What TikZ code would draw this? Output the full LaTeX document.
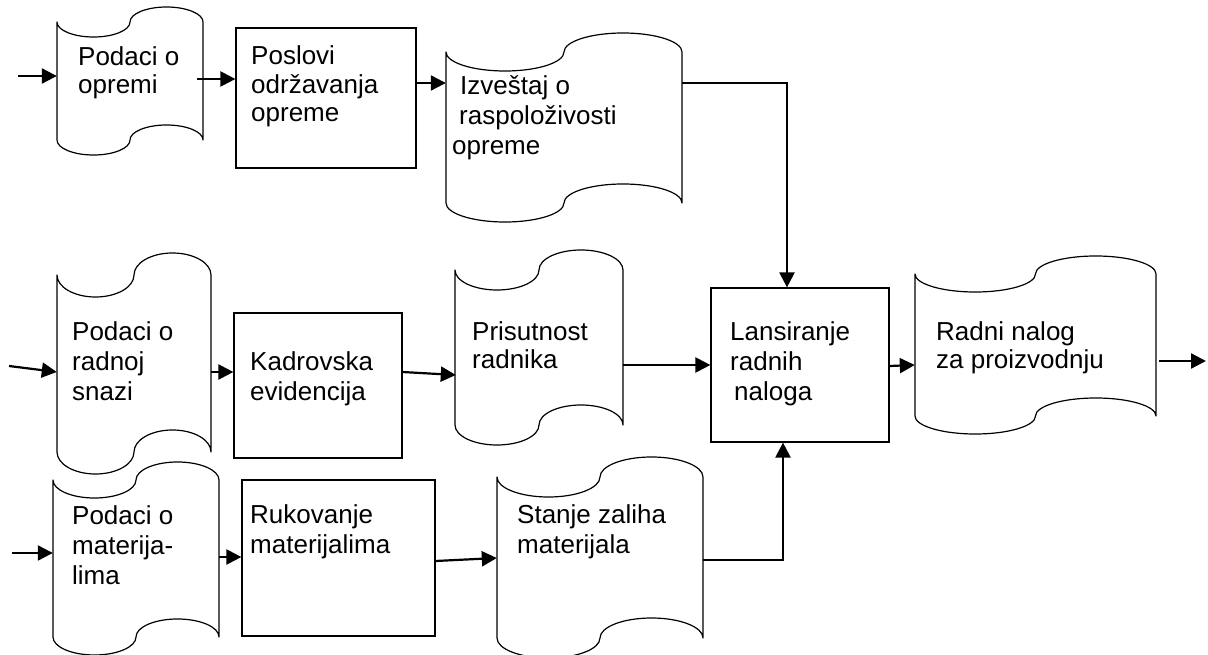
\documentclass[tikz,border=0pt]{standalone}
\usepackage{fontspec}
\setmainfont{Liberation Sans}
\usetikzlibrary{arrows.meta,fit,calc}

% Punched-tape flowchart symbol: #1 name, #2 left x, #3 right x,
% #4 y of the top corners, #5 y of the bottom corners, #6 wave height.
% Each edge is two half-ellipses: a dip on the left half, a bump on the right half.
\newcommand\tapesym[6]{%
  \pgfmathsetmacro\tr{(#3-#2)/4}%
  \pgfmathsetmacro\tk{0.5523*\tr}%
  \pgfmathsetmacro\ta{0.5523*#6}%
  \pgfmathsetmacro\xb{#2+\tr}%
  \pgfmathsetmacro\xc{#2+2*\tr}%
  \pgfmathsetmacro\xd{#2+3*\tr}%
  \draw[tapeline] (#2,#4)
    .. controls (#2,{#4+\ta}) and ({\xb-\tk},{#4+#6}) .. (\xb,{#4+#6})
    .. controls ({\xb+\tk},{#4+#6}) and (\xc,{#4+\ta}) .. (\xc,#4)
    .. controls (\xc,{#4-\ta}) and ({\xd-\tk},{#4-#6}) .. (\xd,{#4-#6})
    .. controls ({\xd+\tk},{#4-#6}) and (#3,{#4-\ta}) .. (#3,#4)
    -- (#3,#5)
    .. controls (#3,{#5-\ta}) and ({\xd+\tk},{#5-#6}) .. (\xd,{#5-#6})
    .. controls ({\xd-\tk},{#5-#6}) and (\xc,{#5-\ta}) .. (\xc,#5)
    .. controls (\xc,{#5+\ta}) and ({\xb+\tk},{#5+#6}) .. (\xb,{#5+#6})
    .. controls ({\xb-\tk},{#5+#6}) and (#2,{#5+\ta}) .. (#2,#5)
    -- cycle;
  \node[fit={(#2,#4) (#3,#5)}, inner sep=0pt] (#1) {};
}

\begin{document}
\begin{tikzpicture}[x=1pt,y=-1pt,
  tapeline/.style={draw=black, line width=1.2pt, line join=round},
  procbox/.style={draw=black, line width=1.2pt, inner sep=0pt},
  arr/.style={line width=2.2pt, -{Triangle[length=15pt,width=15pt]}},
  txt/.style={inner sep=0pt, anchor=base west, align=left,
    font=\fontsize{26}{30}\selectfont},
  txtA/.style={txt, font=\fontsize{26}{27.5}\selectfont},
  txtB/.style={txt, font=\fontsize{26}{28.5}\selectfont},
  txtC/.style={txt, font=\fontsize{26}{28}\selectfont},
]
\useasboundingbox (0,0) rectangle (1208,655);

% ---- shapes ----
\tapesym{A}{57}{203}{22}{140}{15}
\node[procbox, fit={(236,28) (416,168)}] (B) {};
\tapesym{C}{446}{682}{52}{203}{19}

\tapesym{D}{57}{211}{275}{452}{22}
\node[procbox, fit={(234,313) (402,458)}] (E) {};
\tapesym{F}{455}{623}{270}{425}{20}
\node[procbox, fit={(711,288) (889,442)}] (H) {};
\tapesym{I}{915}{1156}{274}{416}{18}

\tapesym{J}{53}{219}{480}{637}{18}
\node[procbox, fit={(242,480) (435,636)}] (K) {};
\tapesym{G}{497}{703}{477}{638}{20}

% ---- labels (placed by the baseline of their last line) ----
\node[txtA] (A-t) at (78,93.5) {Podaci o\\opremi};
\node[txtB] (B-t) at (251,122) {Poslovi\\održavanja\\opreme};
\node[txt]  (C-t) at (452,155) {\hspace*{8pt}Izveštaj o\\\hspace*{7pt}raspoloživosti\\opreme};
\node[txt]  (D-t) at (72,400) {Podaci o\\radnoj\\snazi};
\node[txt]  (E-t) at (250,400) {Kadrovska\\evidencija};
\node[txtC] (F-t) at (472,368) {Prisutnost\\radnika};
\node[txt]  (H-t) at (730,400) {Lansiranje\\radnih\\\hspace*{4pt}naloga};
\node[txtC] (I-t) at (936,368) {Radni nalog\\za proizvodnju};
\node[txt]  (J-t) at (72,584) {Podaci o\\materija-\\lima};
\node[txt]  (K-t) at (250,553) {Rukovanje\\materijalima};
\node[txt]  (G-t) at (517,553) {Stanje zaliha\\materijala};

% ---- free ends ----
\coordinate (in1) at (18,76);
\coordinate (in2) at (9,366);
\coordinate (in3) at (12,553);
\coordinate (out) at (1206,361);

% ---- connectors ----
\draw[arr] (in1) -- (A.west |- in1);
\draw[arr] ($(A.east |- 0,79)+(-6,0)$) -- (B.west |- 0,79);
\draw[arr] (B.east |- 0,83) -- (C.west |- 0,83);
\draw[arr] (C.east |- 0,83) -| ($(H.north)+(-13,0)$);

\draw[arr] (in2) -- (D.west |- 0,372);
\draw[arr] (D.east |- 0,372) -- (E.west |- 0,372);
\draw[arr] (E.east |- 0,372) -- ($(F.west |- 0,375)+(1,0)$);
\draw[arr] (F.east |- 0,365) -- (H.west |- 0,365);
\draw[arr] (H.east |- 0,366) -- (I.west |- 0,365);
\draw[arr] ($(I.east |- 0,361)+(3,0)$) -- (out);

\draw[arr] (in3) -- (J.west |- in3);
\draw[arr] (J.east |- 0,557) -- (K.west |- 0,557);
\draw[arr] (K.east |- 0,561) -- (G.west |- 0,558);
\draw[arr] (G.east |- 0,560) -| ($(H.south)+(-17,0)$);
\end{tikzpicture}
\end{document}
